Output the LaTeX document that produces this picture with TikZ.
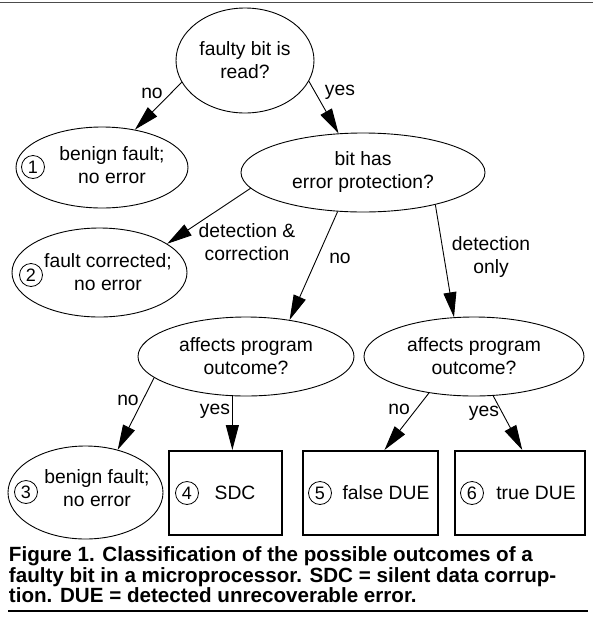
\documentclass[tikz,border=0pt]{standalone}
\usepackage{fontspec}
\setmainfont{Liberation Sans}
\usetikzlibrary{arrows.meta, shapes.geometric}
\def\textFont{\fontsize{19.3}{23}\selectfont}
\def\capFont{\bfseries\fontsize{20.6}{20.6}\selectfont}
\def\boxH{84pt}

\begin{document}
\begin{tikzpicture}[
    x=1pt, y=-1pt,
    line width=0.9pt,
    >={Triangle[length=25pt,width=13pt]},
    every node/.style={font=\textFont, align=center, inner sep=0pt},
    decision/.style={ellipse, draw, line width=0.9pt},
    outcome/.style={rectangle, draw, line width=2pt, minimum height=\boxH},
    num/.style={circle, draw, line width=0.8pt, minimum size=23pt, font=\fontsize{18}{18}\selectfont}
]
\useasboundingbox (0,0) rectangle (593,619);
\draw[line width=1.4pt, black!70] (0,2.5) -- (593,2.5);

% questions
\node[decision, minimum width=138pt, minimum height=105pt] (read) at (245,60.5) {faulty bit is\\read?};
\node[decision, minimum width=244pt, minimum height=79pt] (protect) at (363,172.5) {bit has\\error protection?};
\node[decision, minimum width=216pt, minimum height=79pt] (affect1) at (246,356.5) {affects program\\outcome?};
\node[decision, minimum width=220pt, minimum height=79pt] (affect2) at (474,356.5) {affects program\\outcome?};

% outcomes
\node[decision, minimum width=172pt, minimum height=81pt] (benign1) at (102,167.5) {};
\node (benign1txt) at (112,165.5) {benign fault;\\no error};
\node[decision, minimum width=175pt, minimum height=89pt] (corrected) at (99.5,272.5) {};
\node (correctedtxt) at (108,272.5) {fault corrected;\\no error};
\node[decision, minimum width=155pt, minimum height=93pt] (benign3) at (85.5,492.5) {};
\node (benign3txt) at (97,488.5) {benign fault;\\no error};
\node[outcome, minimum width=113pt] (sdc) at (225.5,493) {};
\node (sdctxt) at (235,493) {SDC};
\node[outcome, minimum width=135pt] (falsedue) at (370.5,493) {};
\node (falseduetxt) at (386,493) {false DUE};
\node[outcome, minimum width=130pt] (truedue) at (520,493) {};
\node (trueduetxt) at (536,493) {true DUE};

% numbers
\foreach \n/\x/\y in {1/33/167, 2/31/275, 3/26/492, 4/187/493, 5/320/493, 6/472/493}
    \node[num] (num\n) at (\x,\y) {\n};

% branches
\draw[->] (read.199) -- (benign1.49);
\draw[->] (read.342) -- (protect.122);
\draw[->] (protect.188) -- (corrected.23);
\draw[->] (protect.237) -- (affect1.40);
\draw[->] (protect.336) -- (affect2.117);
\draw[->] (affect1.193) -- (benign3.53);
\draw[->] (affect1.251) -- (affect1.251 |- sdc.north);
\draw[->] (affect2.219) -- (falsedue.72);
\draw[->] (affect2.296) -- (truedue.87);

% branch labels
\node (noread) at (152,93) {no};
\node (yesread) at (340,92) {yes};
\node (detcorr) at (247,242) {detection \&\\correction};
\node (noprotect) at (340,258) {no};
\node (detonly) at (491,257.5) {detection\\only};
\node (noaffect1) at (128,400) {no};
\node (yesaffect1) at (215,411) {yes};
\node (noaffect2) at (399,409) {no};
\node (yesaffect2) at (484,413) {yes};

% caption
\node[anchor=base west, font=\capFont] (cap1) at (8.5,561.7) {Figure 1. Classification of the possible outcomes of a};
\node[anchor=base west, font=\capFont] (cap2) at (8.5,582.3) {faulty bit in a microprocessor. SDC = silent data corrup-};
\node[anchor=base west, font=\capFont] (cap3) at (8.5,602.7) {tion. DUE = detected unrecoverable error.};
\draw[line width=2.7pt] (8,611) -- (588,611);
\end{tikzpicture}
\end{document}
